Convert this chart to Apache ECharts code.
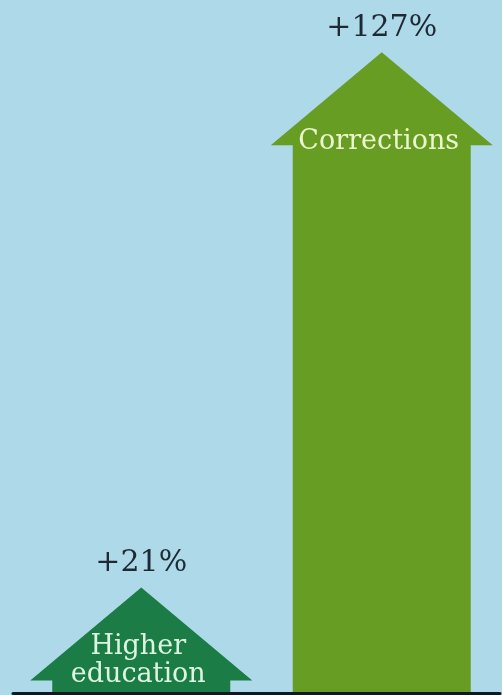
<!DOCTYPE html>
<html>
<head>
<meta charset="utf-8">
<script src="https://cdn.jsdelivr.net/npm/echarts@6/dist/echarts.min.js"></script>
<style>html,body{margin:0;padding:0;background:#aed9e8;}#c{width:502px;height:695px;}</style>
</head>
<body>
<div id="c"></div>
<script>
const categories = ["Higher\neducation", "Corrections"];
const changes = [21, 127];
const valueLabels = ["+21%", "+127%"];
const arrowColors = ["#1b7c45", "#689d24"];
const nameColors = ["#dcf6e2", "#eaf6cc"];

const chart = echarts.init(document.getElementById('c'), null, {renderer: 'canvas'});
const option = {
  backgroundColor: '#aed9e8',
  animation: false,
  grid: [
    {left: 21, width: 484, top: 37, bottom: 1.5},
    {left: 13, right: 2, top: 37, bottom: 1.5}
  ],
  xAxis: [
    {type: 'category', data: categories, gridIndex: 0, boundaryGap: true,
     axisLine: {show: false}, axisTick: {show: false}, axisLabel: {show: false}},
    {type: 'value', gridIndex: 1, min: 0, max: 1, z: 10,
     axisLine: {show: true, onZero: false, lineStyle: {color: '#111820', width: 3}},
     axisTick: {show: false}, axisLabel: {show: false}, splitLine: {show: false}}
  ],
  yAxis: [
    {type: 'value', gridIndex: 0, min: 0, max: 130, show: false, splitLine: {show: false}},
    {type: 'value', gridIndex: 1, min: 0, max: 1, show: false, splitLine: {show: false}}
  ],
  series: [{
    type: 'custom',
    xAxisIndex: 0, yAxisIndex: 0,
    data: changes.map((v, i) => [i, v]),
    renderItem: function (params, api) {
      const i = params.dataIndex;
      const tip = api.coord([api.value(0), api.value(1)]);
      const base = api.coord([api.value(0), 0]);
      const cx = tip[0], ty = tip[1], by = base[1];
      const headH = 93, headHalf = 111, shaftHalf = 89;
      const hb = ty + headH;
      const lines = categories[i].split('\n').length;
      return {
        type: 'group',
        children: [
          {type: 'polygon', shape: {points: [
            [cx, ty], [cx + headHalf, hb], [cx + shaftHalf, hb], [cx + shaftHalf, by],
            [cx - shaftHalf, by], [cx - shaftHalf, hb], [cx - headHalf, hb]
          ]}, style: {fill: arrowColors[i]}},
          {type: 'text', x: cx, y: ty - 24, style: {
            text: valueLabels[i], fill: '#1d2a36', font: '30px "DejaVu Serif"',
            align: 'center', verticalAlign: 'middle'}},
          {type: 'text', x: cx - 3, y: hb - 3 - (lines - 1) * 16, style: {
            text: categories[i], fill: nameColors[i], font: '27px "DejaVu Serif"',
            lineHeight: 28, align: 'center', verticalAlign: 'middle'}}
        ]
      };
    }
  }]
};
chart.setOption(option);
</script>
</body>
</html>
